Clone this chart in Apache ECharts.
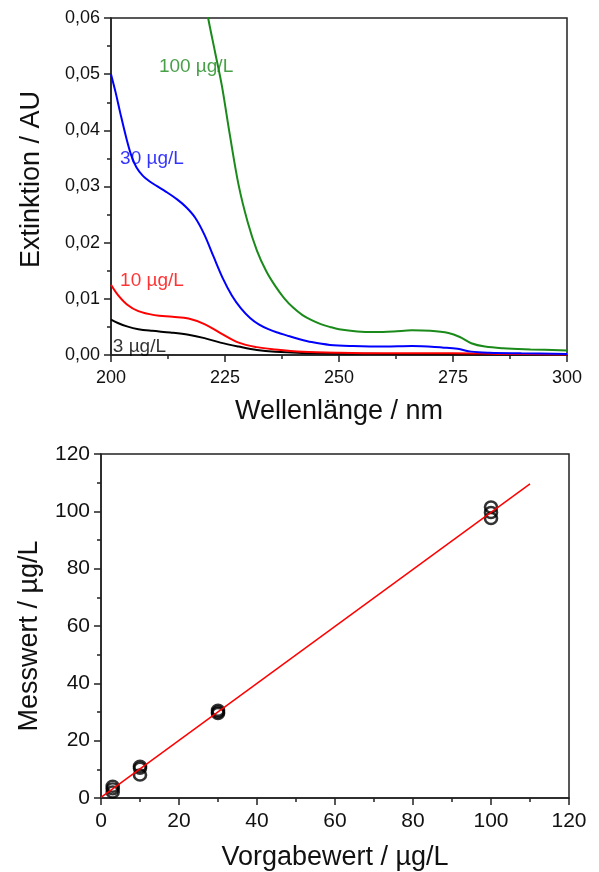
<!DOCTYPE html>
<html>
<head>
<meta charset="utf-8">
<script src="https://cdn.jsdelivr.net/npm/echarts@6/dist/echarts.min.js"></script>
<style>
  html, body { margin: 0; padding: 0; background: #fff; }
  #chart { width: 599px; height: 872px; }
</style>
</head>
<body>
<div id="chart"></div>
<script>
// Spektren: [Wellenlänge nm, Extinktion AU]
const spec3 = [[200, 0.0063], [201.5, 0.0057], [203.5, 0.0051], [206, 0.0046], [209, 0.0043], [213, 0.0040], [217, 0.0036], [220.5, 0.0030], [224, 0.0022], [228, 0.0015], [232, 0.0009], [236, 0.0006], [245, 0.0003], [260, 0.0002], [300, 0.0001]];
const spec10 = [[200, 0.0125], [201.5, 0.0107], [203.5, 0.0090], [206, 0.0078], [209.5, 0.0071], [213.5, 0.0068], [217, 0.0065], [220.5, 0.0055], [224, 0.0039], [228, 0.0022], [232, 0.0014], [236, 0.0010], [242, 0.0006], [250, 0.0004], [260, 0.0003], [275, 0.0003], [285, 0.0002], [300, 0.0001]];
const spec30 = [[200, 0.0500], [201, 0.0468], [202, 0.0432], [203.4, 0.0385], [204.5, 0.0354], [205.6, 0.0334], [207, 0.0319], [208.5, 0.0309], [210, 0.0301], [212, 0.0291], [214.5, 0.0277], [216.5, 0.0263], [218.5, 0.0244], [220.5, 0.0214], [222.5, 0.0175], [224.5, 0.0137], [226.5, 0.0106], [228.5, 0.0083], [230.5, 0.0066], [232.5, 0.0054], [234.5, 0.0046], [236.5, 0.0040], [238.5, 0.0035], [241, 0.0029], [244, 0.0023], [248, 0.0018], [253, 0.0016], [260, 0.0015], [266, 0.0016], [273, 0.0013], [276, 0.0011], [279, 0.0006], [283, 0.0004], [290, 0.0003], [300, 0.0002]];
const spec100 = [[219.5, 0.0680], [221.3, 0.0600], [222.8, 0.0540], [224.3, 0.0480], [226, 0.0395], [228, 0.0302], [230, 0.0236], [232, 0.0186], [234, 0.0150], [236, 0.0123], [238, 0.0101], [240, 0.0084], [242, 0.0071], [244, 0.0062], [246, 0.0055], [248, 0.0050], [250, 0.0046], [254, 0.0042], [258, 0.0041], [262, 0.0042], [266, 0.0044], [270, 0.0043], [274, 0.0039], [276.5, 0.0032], [279, 0.0021], [282, 0.0015], [286, 0.0012], [292, 0.0010], [300, 0.0008]];

// Beschriftungen der Spektren
const specLabels = [
  { name: '100 µg/L', value: [210.5, 0.0513], color: '#1a8a1a' },
  { name: '30 µg/L', value: [202, 0.0350], color: '#0000ff' },
  { name: '10 µg/L', value: [202, 0.0133], color: '#ff0000' },
  { name: '3 µg/L', value: [200.4, 0.0014], color: '#000000' },
];

// Wiederfindung: Vorgabewert vs. Messwert
const vorgabe = [3, 3, 3, 10, 10, 10, 30, 30, 30, 100, 100, 100];
const messwert = [2.1, 3.2, 4.1, 8.0, 10.4, 11.1, 29.5, 30.0, 30.6, 97.5, 99.6, 101.5];
const fitLine = [[0, 0.2], [110, 109.6]];

const fs = 'Liberation Sans, Arial, sans-serif';
const axisCol = '#222';

const chart = echarts.init(document.getElementById('chart'));

const baseAxis = {
  axisLine: { show: true, onZero: false, lineStyle: { color: axisCol, width: 1.5 } },
  axisTick: { show: true, inside: false, length: 7, lineStyle: { color: axisCol, width: 1.5 } },
  minorTick: { show: true, splitNumber: 2, length: 4, lineStyle: { color: axisCol, width: 1.5 } },
  splitLine: { show: false },
  nameLocation: 'middle',
};
const nameStyle = (extra) => Object.assign({ fontFamily: fs, fontSize: 27, color: '#111' }, extra || {});

// Spektrum-Linie
const specSeries = (data, color) => ({
  type: 'line', xAxisIndex: 0, yAxisIndex: 0, data: data, smooth: 0.35,
  showSymbol: false, clip: true, lineStyle: { color: color, width: 2 },
});

chart.setOption({
  animation: false,
  backgroundColor: '#fff',
  grid: [
    { left: 111, top: 18, width: 456, height: 337, show: true, borderColor: axisCol, borderWidth: 1.5 },
    { left: 101, top: 454, width: 468, height: 345, show: true, borderColor: axisCol, borderWidth: 1.5 },
  ],
  xAxis: [
    Object.assign({}, baseAxis, {
      gridIndex: 0, type: 'value', min: 200, max: 300, interval: 25,
      name: 'Wellenlänge / nm', nameGap: 43, nameTextStyle: nameStyle(),
      axisLabel: { fontFamily: fs, fontSize: 18, color: '#111', margin: 14 },
    }),
    Object.assign({}, baseAxis, {
      gridIndex: 1, type: 'value', min: 0, max: 120, interval: 20,
      name: 'Vorgabewert / µg/L', nameGap: 46, nameTextStyle: nameStyle(),
      axisLabel: { fontFamily: fs, fontSize: 21, color: '#111', margin: 13 },
    }),
  ],
  yAxis: [
    Object.assign({}, baseAxis, {
      gridIndex: 0, type: 'value', min: 0, max: 0.06, interval: 0.01,
      name: 'Extinktion / AU', nameGap: 66, nameTextStyle: nameStyle({ padding: [0, 0, 0, 14] }),
      axisLabel: {
        fontFamily: fs, fontSize: 18, color: '#111', margin: 11,
        formatter: v => v.toFixed(2).replace('.', ','),
      },
    }),
    Object.assign({}, baseAxis, {
      gridIndex: 1, type: 'value', min: 0, max: 120, interval: 20,
      name: 'Messwert / µg/L', nameGap: 58, nameTextStyle: nameStyle({ padding: [0, 20, 0, 0] }),
      axisLabel: { fontFamily: fs, fontSize: 21, color: '#111', margin: 11 },
    }),
  ],
  series: [
    specSeries(spec3, '#000000'),
    specSeries(spec10, '#ff0000'),
    specSeries(spec30, '#0000ff'),
    specSeries(spec100, '#1a8a1a'),
    {
      type: 'scatter', xAxisIndex: 0, yAxisIndex: 0, symbolSize: 0, silent: true,
      data: specLabels.map(d => ({
        name: d.name, value: d.value,
        label: { show: true, position: 'right', distance: 0, formatter: '{b}', color: d.color, fontFamily: fs, fontSize: 19 },
      })),
    },
    {
      type: 'line', xAxisIndex: 1, yAxisIndex: 1, data: fitLine, showSymbol: false,
      lineStyle: { color: '#ff0000', width: 1.5 },
    },
    {
      type: 'scatter', xAxisIndex: 1, yAxisIndex: 1,
      data: vorgabe.map((x, i) => [x, messwert[i]]),
      symbol: 'circle', symbolSize: [12, 11],
      itemStyle: { color: 'rgba(255,255,255,0)', borderColor: '#000', borderWidth: 2.5 },
    },
  ],
});
</script>
</body>
</html>
